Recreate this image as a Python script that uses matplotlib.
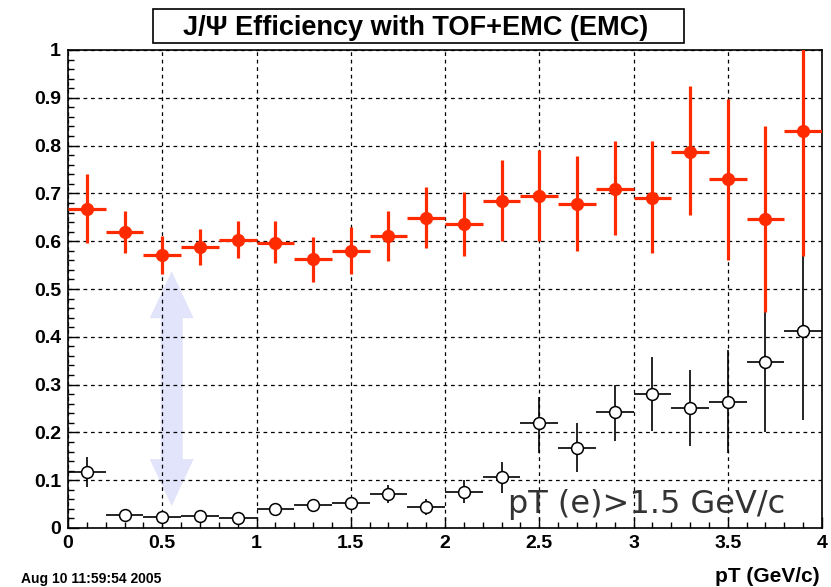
import matplotlib
matplotlib.use("Agg")
import matplotlib.pyplot as plt
from matplotlib.patches import FancyArrow, Rectangle
from matplotlib.ticker import MultipleLocator

# bin centres (pT, GeV/c), bin half width 0.1
pt = [0.1, 0.3, 0.5, 0.7, 0.9, 1.1, 1.3, 1.5, 1.7, 1.9,
      2.1, 2.3, 2.5, 2.7, 2.9, 3.1, 3.3, 3.5, 3.7, 3.9]
bin_half = 0.1

# TOF+EMC efficiency (red, filled)
eff_tof = [0.667, 0.619, 0.571, 0.588, 0.603, 0.597, 0.563, 0.580, 0.611, 0.648,
           0.636, 0.684, 0.694, 0.678, 0.710, 0.690, 0.787, 0.730, 0.646, 0.830]
eff_tof_lo = [0.071, 0.044, 0.040, 0.038, 0.038, 0.043, 0.048, 0.049, 0.052, 0.063,
              0.067, 0.084, 0.094, 0.098, 0.097, 0.115, 0.132, 0.169, 0.194, 0.261]
eff_tof_hi = [0.073, 0.044, 0.040, 0.038, 0.039, 0.045, 0.046, 0.049, 0.052, 0.065,
              0.067, 0.086, 0.096, 0.100, 0.100, 0.120, 0.138, 0.167, 0.195, 0.261]

# EMC only efficiency (black, open)
eff_emc = [0.117, 0.027, 0.023, 0.025, 0.020, 0.040, 0.048, 0.052, 0.071, 0.044,
           0.075, 0.107, 0.220, 0.168, 0.243, 0.280, 0.252, 0.264, 0.348, 0.413]
eff_emc_lo = [0.031, 0.004, 0.004, 0.004, 0.004, 0.008, 0.010, 0.012, 0.019, 0.017,
              0.023, 0.034, 0.063, 0.050, 0.061, 0.077, 0.080, 0.107, 0.148, 0.187]
eff_emc_hi = [0.032, 0.004, 0.004, 0.004, 0.004, 0.008, 0.010, 0.012, 0.019, 0.016,
              0.025, 0.031, 0.054, 0.052, 0.057, 0.078, 0.078, 0.108, 0.146, 0.185]

red = "#ff2a00"

fig = plt.figure(figsize=(8.31, 5.87), dpi=100)
ax = fig.add_axes([68 / 831, 1 - 528 / 587, 754 / 831, 478 / 587])

ax.set_xlim(0, 4)
ax.set_ylim(0, 1)

ax.grid(True, which="major", linestyle=(0, (3, 3)), color="black", linewidth=0.9)

# double headed arrow marking the efficiency gap
arrow_x = 0.55
arrow_lo, arrow_hi = 0.046, 0.537
arrow_mid = (arrow_lo + arrow_hi) / 2
for tip in (arrow_hi, arrow_lo):
    ax.add_patch(FancyArrow(arrow_x, arrow_mid, 0, tip - arrow_mid, width=0.117,
                            head_width=0.233, head_length=0.098,
                            length_includes_head=True, color="#e1e4fa",
                            linewidth=0, zorder=1))

ax.errorbar(pt, eff_emc, yerr=[eff_emc_lo, eff_emc_hi], xerr=bin_half,
            fmt="o", color="black", mfc="white", mec="black", ms=8.5, mew=1.1,
            elinewidth=1.2, capsize=0, zorder=3)
ax.errorbar(pt, eff_tof, yerr=[eff_tof_lo, eff_tof_hi], xerr=bin_half,
            fmt="o", color=red, ms=8.5, elinewidth=2.3, capsize=0, zorder=4)

ax.xaxis.set_major_locator(MultipleLocator(0.5))
ax.xaxis.set_minor_locator(MultipleLocator(0.1))
ax.yaxis.set_major_locator(MultipleLocator(0.1))
ax.yaxis.set_minor_locator(MultipleLocator(0.02))
ax.tick_params(which="both", direction="in", top=False, right=False,
               width=1, color="black")
ax.tick_params(which="major", length=8, labelsize=14, pad=5)
ax.tick_params(which="minor", length=4.5)
ax.set_xticks([0, 0.5, 1, 1.5, 2, 2.5, 3, 3.5, 4])
ax.set_xticklabels(["0", "0.5", "1", "1.5", "2", "2.5", "3", "3.5", "4"])
ax.set_yticks([0, 0.1, 0.2, 0.3, 0.4, 0.5, 0.6, 0.7, 0.8, 0.9, 1])
ax.set_yticklabels(["0", "0.1", "0.2", "0.3", "0.4", "0.5", "0.6", "0.7", "0.8", "0.9", "1"])
for lab in ax.get_xticklabels() + ax.get_yticklabels():
    lab.set_fontfamily("Liberation Sans")
    lab.set_fontweight("bold")
for s in ax.spines.values():
    s.set_linewidth(1.2)

ax.text(0.584, 0.031, "pT (e)>1.5 GeV/c", transform=ax.transAxes,
        fontsize=23, color="#333333", family="DejaVu Sans", zorder=5)

# title box
fig.text(416 / 831, 1 - 28 / 587, "J/\u03a8 Efficiency with TOF+EMC (EMC)",
         ha="center", va="center", fontsize=19.5, fontweight="bold",
         family="Liberation Sans")
fig.patches.append(Rectangle((153 / 831, 1 - 43 / 587), 531 / 831, 34 / 587,
                             transform=fig.transFigure, fill=False,
                             edgecolor="black", linewidth=1.2))

fig.text(820 / 831, 1 - 577 / 587, "pT (GeV/c)", ha="right", va="center",
         fontsize=15, fontweight="bold", family="Liberation Sans")
fig.text(21 / 831, 1 - 579 / 587, "Aug 10 11:59:54 2005", ha="left", va="center",
         fontsize=10, fontweight="bold", family="Liberation Sans")

fig.savefig("out.png", dpi=100)
